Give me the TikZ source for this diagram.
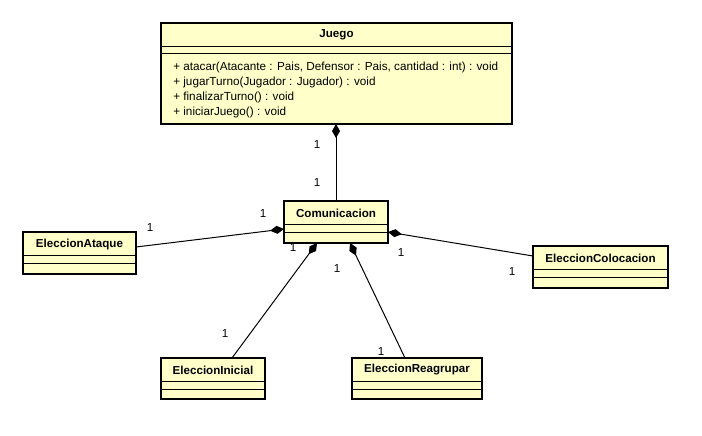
\documentclass[tikz,border=0pt]{standalone}
\usepackage{fontspec}
\setmainfont{Liberation Sans}
\usetikzlibrary{arrows.meta,calc}
\definecolor{clsfill}{HTML}{FFFFCA}
\tikzset{
  clsbox/.style={draw=black, line width=1.5pt, fill=clsfill, rectangle, inner sep=0pt, outer sep=0pt},
  clstitle/.style={font=\fontsize{8.7pt}{10pt}\selectfont\bfseries, inner sep=0pt},
  clsop/.style={font=\fontsize{8.8pt}{10pt}\selectfont, inner sep=0pt, anchor=west},
  sepline/.style={line width=0.75pt},
  mult/.style={font=\fontsize{8.7pt}{10pt}\selectfont, inner sep=0pt},
  compo/.style={line width=0.75pt, -{Diamond[length=10.5pt,width=6pt,fill=black]}}
}
% name, x, y, width, height, title
\newcommand\umlclassbox[6]{%
  \node[clsbox, anchor=north west, minimum width=#4*0.75pt, minimum height=#5*0.75pt] (#1) at (#2,#3) {};
  \node[clstitle] (#1-t) at ($(#1.north)+(0,12)$) {#6};
  \draw[sepline] ($(#1.north west)+(0,23)$) -- ($(#1.north east)+(0,23)$);
  \draw[sepline] ($(#1.north west)+(0,31)$) -- ($(#1.north east)+(0,31)$);
}
\begin{document}
\begin{tikzpicture}[x=0.75pt,y=-0.75pt]
\useasboundingbox (0,0) rectangle (702,435);
% Juego
\node[clsbox, anchor=north west, minimum width=351*0.75pt, minimum height=101*0.75pt] (juego) at (161,23) {};
\node[clstitle] (juego-t) at ($(juego.north)+(0,12)$) {Juego};
\draw[sepline] ($(juego.north west)+(0,24)$) -- ($(juego.north east)+(0,24)$);
\draw[sepline] ($(juego.north west)+(0,31)$) -- ($(juego.north east)+(0,31)$);
\node[clsop] (op1) at (173,67) {+ atacar(Atacante : Pais, Defensor : Pais, cantidad : int) : void};
\node[clsop] (op2) at (173,82) {+ jugarTurno(Jugador : Jugador) : void};
\node[clsop] (op3) at (173,97) {+ finalizarTurno() : void};
\node[clsop] (op4) at (173,112) {+ iniciarJuego() : void};
% other classes
\umlclassbox{com}{284}{201}{104}{42}{Comunicacion}
\umlclassbox{ataque}{23}{232}{113}{42}{EleccionAtaque}
\umlclassbox{coloc}{533}{246}{135}{42}{EleccionColocacion}
\umlclassbox{inicial}{161}{358}{104}{41}{EleccionInicial}
\umlclassbox{reag}{352}{358}{130}{41}{EleccionReagrupar}
% connection points
\coordinate (comW) at ($(com.north west)+(0,28)$);
\coordinate (comE) at ($(com.north east)+(0,31)$);
\coordinate (comS1) at ($(com.south west)+(33,0)$);
\coordinate (comS2) at ($(com.south west)+(66,0)$);
\coordinate (ataqueE) at ($(ataque.north east)+(0,15)$);
\coordinate (colocW) at ($(coloc.north west)+(0,10)$);
\coordinate (inicialN) at ($(inicial.north west)+(71,0)$);
\coordinate (reagN) at ($(reag.north west)+(53,0)$);
% connectors
\draw[compo] (com.north) -- (com.north |- juego.south);
\draw[compo] (ataqueE) -- (comW);
\draw[compo] (colocW) -- (comE);
\draw[compo] (inicialN) -- (comS1);
\draw[compo] (reagN) -- (comS2);
% multiplicities
\node[mult] (m1) at (317,145) {1};
\node[mult] (m2) at (317,183) {1};
\node[mult] (m3) at (150,228) {1};
\node[mult] (m4) at (263,214) {1};
\node[mult] (m5) at (293,248) {1};
\node[mult] (m6) at (337,269) {1};
\node[mult] (m7) at (401,253) {1};
\node[mult] (m8) at (512,272) {1};
\node[mult] (m9) at (225,334) {1};
\node[mult] (m10) at (381,352) {1};
\end{tikzpicture}
\end{document}
